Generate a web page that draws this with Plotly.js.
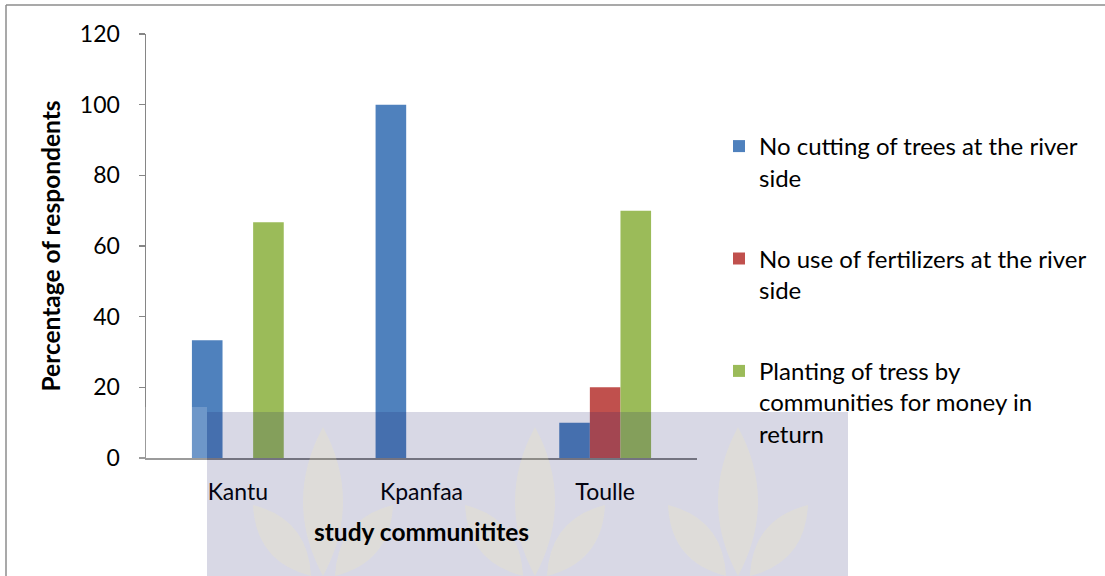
<!DOCTYPE html>
<html>
<head>
<meta charset="utf-8">
<script src="https://cdn.plot.ly/plotly-3.0.1.min.js"></script>
<style>html,body{margin:0;padding:0;background:#fff;overflow:hidden;width:1105px;height:576px;}#chart{width:1105px;height:576px;overflow:hidden;}</style>
</head>
<body>
<div id="chart"></div>
<script>
const categories = ["Kantu", "Kpanfaa", "Toulle"];
const seriesNames = [
  "No cutting of trees at the river<br>side",
  "No use of fertilizers at the river<br>side",
  "Planting of tress by<br>communities for money in<br>return"
];
const noCutting = [33.3, 100, 10];
const noFertilizer = [0, 0, 20];
const planting = [66.7, 0, 70];
const yTicks = [0, 20, 40, 60, 80, 100, 120];

const colors = ["#4F81BD", "#C0504D", "#9BBB59"];
const values = [noCutting, noFertilizer, planting];
const FONT = "Lato, 'Open Sans', sans-serif";

// pixel -> paper helpers for decoration
const L = 146, R = 697, T = 34, B = 458;
const px = X => (X - L) / (R - L);
const py = Y => (B - Y) / (B - T);

const traces = values.map((v, i) => ({
  type: "bar",
  name: seriesNames[i],
  x: categories,
  y: v,
  legendgroup: "g" + i,
  marker: { color: colors[i], line: { width: 0 } },
  hoverinfo: "x+y"
}));

function leaf(x1, y1, x2, y2, w) {
  const mx = (x1 + x2) / 2, my = (y1 + y2) / 2;
  const dx = x2 - x1, dy = y2 - y1, len = Math.hypot(dx, dy);
  const nx = -dy / len * w * 2, ny = dx / len * w * 2;
  return `M${px(x1)},${py(y1)} Q${px(mx + nx)},${py(my + ny)} ${px(x2)},${py(y2)} Q${px(mx - nx)},${py(my - ny)} ${px(x1)},${py(y1)} Z`;
}

const shapes = [
  { type: "line", xref: "paper", yref: "paper", x0: px(6), y0: py(5), x1: px(1105), y1: py(5), line: { color: "#8c8c8c", width: 1.5 } },
  { type: "line", xref: "paper", yref: "paper", x0: px(6), y0: py(5), x1: px(6), y1: py(576), line: { color: "#8c8c8c", width: 1.5 } },
  { type: "rect", xref: "paper", yref: "paper", layer: "above", x0: px(123), y0: py(407), x1: px(207), y1: py(576), fillcolor: "rgba(255,255,255,0.18)", line: { width: 0 } },
  { type: "rect", xref: "paper", yref: "paper", layer: "above", x0: px(207), y0: py(412), x1: px(848), y1: py(576), fillcolor: "rgba(22,22,102,0.17)", line: { width: 0 } }
];
[323, 535, 738].forEach(cx => {
  const fc = "rgba(250,240,170,0.2)";
  shapes.push({ type: "path", xref: "paper", yref: "paper", layer: "above", path: leaf(cx, 427, cx, 576, 20), fillcolor: fc, line: { width: 0 } });
  shapes.push({ type: "path", xref: "paper", yref: "paper", layer: "above", path: leaf(cx - 12, 576, cx - 70, 505, 17), fillcolor: fc, line: { width: 0 } });
  shapes.push({ type: "path", xref: "paper", yref: "paper", layer: "above", path: leaf(cx + 12, 576, cx + 70, 505, 17), fillcolor: fc, line: { width: 0 } });
});

const layout = {
  width: 1105,
  height: 576,
  margin: { l: L, r: 1105 - R, t: T, b: 576 - B, pad: 0 },
  paper_bgcolor: "#ffffff",
  plot_bgcolor: "#ffffff",
  font: { family: FONT, size: 23, color: "#000000" },
  barmode: "group",
  bargap: 0.5,
  bargroupgap: 0,
  showlegend: true,
  legend: {
    x: px(719), y: py(124), xanchor: "left", yanchor: "top",
    font: { family: FONT, size: 24, color: "#000000" },
    valign: "top",
    tracegroupgap: 47,
    traceorder: "grouped",
    bgcolor: "rgba(0,0,0,0)",
    borderwidth: 0
  },
  xaxis: {
    type: "category",
    showline: true, linecolor: "#868686", linewidth: 1.5,
    ticks: "", showgrid: false, zeroline: false,
    ticklabelstandoff: 13,
    tickfont: { family: FONT, size: 23, color: "#000" },
    title: { text: "<b>study communitites</b>", font: { family: FONT, size: 24.5, color: "#000" }, standoff: 20 }
  },
  yaxis: {
    range: [0, 120],
    tickvals: yTicks,
    ticktext: yTicks.map(String),
    showline: true, linecolor: "#868686", linewidth: 1.5,
    ticks: "outside", ticklen: 6, tickcolor: "#868686", tickwidth: 1.5,
    showgrid: false, zeroline: false,
    ticklabelstandoff: 14,
    tickfont: { family: FONT, size: 23, color: "#000" },
    title: { text: "<b>Percentage of respondents</b>", font: { family: FONT, size: 24.5, color: "#000" }, standoff: 12 }
  },
  shapes: shapes
};

Plotly.newPlot("chart", traces, layout, { displayModeBar: false, staticPlot: true });
</script>
</body>
</html>
